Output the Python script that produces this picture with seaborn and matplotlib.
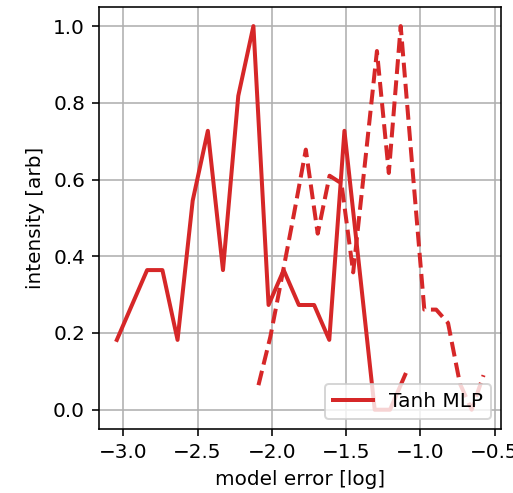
import numpy as np
import pandas as pd
import seaborn as sns
import matplotlib
matplotlib.use("Agg")
import matplotlib.pyplot as plt

# solid curve (Tanh MLP), bin centres in log model error
solid_x = [-3.044, -2.942, -2.840, -2.737, -2.635, -2.533, -2.431, -2.329, -2.226, -2.124,
           -2.022, -1.920, -1.818, -1.715, -1.613, -1.511, -1.409, -1.307, -1.204, -1.102]
solid_y = [0.182, 0.273, 0.364, 0.364, 0.182, 0.545, 0.727, 0.364, 0.818, 1.0,
           0.273, 0.364, 0.273, 0.273, 0.182, 0.727, 0.364, 0.0, 0.0, 0.091]

# dashed curve (no legend entry)
dash_x = [-2.090, -2.010, -1.930, -1.851, -1.771, -1.691, -1.611, -1.531, -1.452, -1.372,
          -1.292, -1.212, -1.132, -1.053, -0.973, -0.893, -0.813, -0.733, -0.654, -0.574]
dash_y = [0.064, 0.19, 0.35, 0.51, 0.678, 0.459, 0.61, 0.59, 0.358, 0.645,
          0.935, 0.617, 1.0, 0.63, 0.261, 0.261, 0.226, 0.068, 0.0, 0.09]

df_solid = pd.DataFrame({"err": solid_x, "intensity": solid_y})
df_dash = pd.DataFrame({"err": dash_x, "intensity": dash_y})

fig, ax = plt.subplots(figsize=(513/144, 493/144), dpi=144)
sns.lineplot(data=df_solid, x="err", y="intensity", color="tab:red", lw=2,
             label="Tanh MLP", ax=ax, sort=False)
sns.lineplot(data=df_dash, x="err", y="intensity", color="tab:red", lw=2,
             linestyle="--", ax=ax, sort=False)

ax.set_xlim(-3.164, -0.455)
ax.set_ylim(-0.05, 1.05)
ax.grid(True)
ax.set_xlabel("model error [log]")
ax.set_ylabel("intensity [arb]")
ax.legend(loc="lower right")

plt.subplots_adjust(left=0.193, right=0.977, bottom=0.130, top=0.986)
plt.savefig("out.png", dpi=144)
